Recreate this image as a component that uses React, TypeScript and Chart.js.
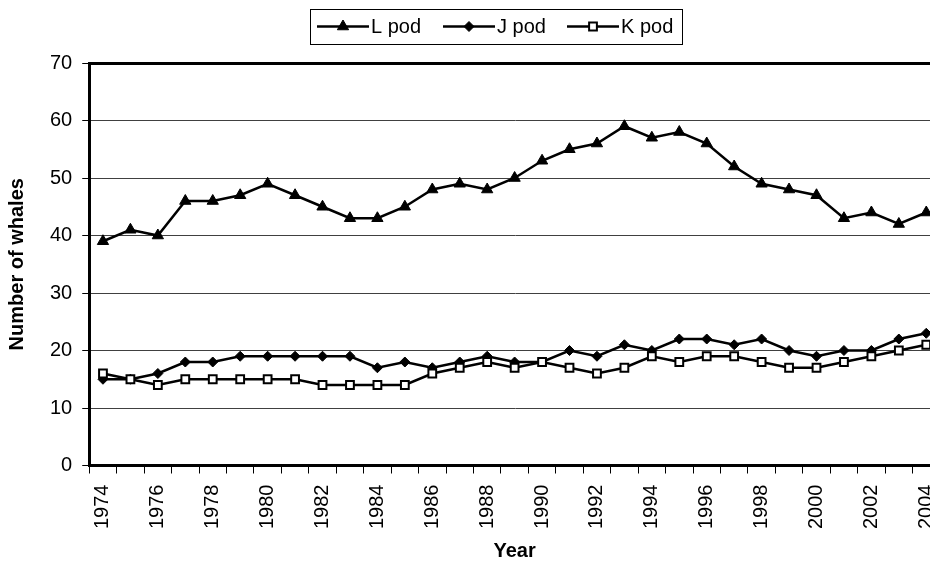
import React, { useEffect, useRef } from 'react';
import { Chart, registerables } from 'chart.js';
import { drawPoint } from 'chart.js/helpers';

Chart.register(...registerables);

const years = [
  '1974', '1975', '1976', '1977', '1978', '1979', '1980', '1981', '1982', '1983',
  '1984', '1985', '1986', '1987', '1988', '1989', '1990', '1991', '1992', '1993',
  '1994', '1995', '1996', '1997', '1998', '1999', '2000', '2001', '2002', '2003', '2004',
];

const lPod = [39, 41, 40, 46, 46, 47, 49, 47, 45, 43, 43, 45, 48, 49, 48, 50, 53, 55, 56, 59, 57, 58, 56, 52, 49, 48, 47, 43, 44, 42, 44];
const jPod = [15, 15, 16, 18, 18, 19, 19, 19, 19, 19, 17, 18, 17, 18, 19, 18, 18, 20, 19, 21, 20, 22, 22, 21, 22, 20, 19, 20, 20, 22, 23];
const kPod = [16, 15, 14, 15, 15, 15, 15, 15, 14, 14, 14, 14, 16, 17, 18, 17, 18, 17, 16, 17, 19, 18, 19, 19, 18, 17, 17, 18, 19, 20, 21];

const seriesNames = ['L pod', 'J pod', 'K pod'];
const yMin = 0;
const yMax = 70;
const yStep = 10;

const FONT = '"Liberation Sans", Arial, Helvetica, sans-serif';

const legendLineStarts = [317, 443, 567];

const boxLegend = {
  id: 'boxLegend',
  afterDraw(chart: any) {
    const ctx = chart.ctx;
    ctx.save();
    ctx.strokeStyle = '#000';
    ctx.lineWidth = 1;
    ctx.strokeRect(310.5, 9.5, 372, 35);
    const cy = 26.5;
    chart.data.datasets.forEach((ds: any, i: number) => {
      const x0 = legendLineStarts[i];
      ctx.beginPath();
      ctx.strokeStyle = '#000';
      ctx.lineWidth = 2.5;
      ctx.moveTo(x0, cy);
      ctx.lineTo(x0 + 52, cy);
      ctx.stroke();
      ctx.fillStyle = ds.pointBackgroundColor;
      ctx.strokeStyle = '#000';
      ctx.lineWidth = ds.pointBorderWidth;
      drawPoint(ctx, {
        pointStyle: ds.pointStyle,
        radius: ds.pointRadius,
        borderWidth: ds.pointBorderWidth,
        rotation: 0,
      } as any, x0 + 26, cy);
      ctx.fillStyle = '#000';
      ctx.font = `20px ${FONT}`;
      ctx.textAlign = 'left';
      ctx.textBaseline = 'middle';
      ctx.fillText(ds.label, x0 + 54, cy + 1);
    });
    ctx.restore();
  },
};

export default function App() {
  const ref = useRef<HTMLCanvasElement>(null);

  useEffect(() => {
    if (!ref.current) return;
    const chart = new Chart(ref.current, {
      type: 'line',
      data: {
        labels: years,
        datasets: [
          {
            label: seriesNames[0],
            data: lPod,
            borderColor: '#000',
            borderWidth: 2.5,
            pointStyle: 'triangle',
            pointRadius: 6.5,
            pointBackgroundColor: '#000',
            pointBorderColor: '#000',
            pointBorderWidth: 1,
            tension: 0,
            clip: false,
            order: 2,
          },
          {
            label: seriesNames[1],
            data: jPod,
            borderColor: '#000',
            borderWidth: 2.5,
            pointStyle: 'rectRot',
            pointRadius: 5,
            pointBackgroundColor: '#000',
            pointBorderColor: '#000',
            pointBorderWidth: 1,
            tension: 0,
            clip: false,
            order: 1,
          },
          {
            label: seriesNames[2],
            data: kPod,
            borderColor: '#000',
            borderWidth: 2.5,
            pointStyle: 'rect',
            pointRadius: 5.5,
            pointBackgroundColor: '#fff',
            pointBorderColor: '#000',
            pointBorderWidth: 2,
            tension: 0,
            clip: false,
            order: 0,
          },
        ] as any,
      },
      options: {
        animation: false,
        responsive: false,
        maintainAspectRatio: false,
        layout: { autoPadding: false, padding: { left: 5, top: 63, right: 0, bottom: 0 } },
        plugins: {
          legend: { display: false },
          tooltip: { enabled: false },
        },
        scales: {
          x: {
            type: 'category',
            offset: true,
            grid: {
              display: true,
              drawOnChartArea: false,
              drawTicks: true,
              tickLength: 8,
              tickColor: '#000',
              tickWidth: 1,
              offset: true,
            },
            border: { display: true, color: '#000', width: 3 },
            ticks: {
              autoSkip: false,
              maxRotation: 90,
              minRotation: 90,
              padding: 11,
              color: '#000',
              font: { family: FONT, size: 20 },
              callback: (_v: any, i: number) => (i % 2 === 0 ? years[i] : ''),
            },
            title: {
              display: true,
              text: 'Year',
              color: '#000',
              font: { family: FONT, size: 20, weight: 'bold', lineHeight: 1.1 },
              padding: { top: 0, bottom: 1 },
            },
            afterFit: (s: any) => {
              s.paddingLeft = 0;
              s.paddingRight = 0;
            },
          } as any,
          y: {
            min: yMin,
            max: yMax,
            ticks: {
              stepSize: yStep,
              padding: 10,
              color: '#000',
              font: { family: FONT, size: 20 },
            },
            grid: {
              color: (c: any) => (c.tick && c.tick.value === yMax ? '#000' : '#404040'),
              lineWidth: (c: any) => (c.tick && c.tick.value === yMax ? 3 : 1),
              tickColor: '#000',
              tickLength: 7,
              tickWidth: 1,
            },
            border: { display: true, color: '#000', width: 3 },
            title: {
              display: true,
              text: 'Number of whales',
              color: '#000',
              font: { family: FONT, size: 20, weight: 'bold' },
              padding: { top: 0, bottom: 11 },
            },
          } as any,
        },
      },
      plugins: [boxLegend],
    });
    return () => chart.destroy();
  }, []);

  return (
    <div style={{ position: 'fixed', left: 0, top: 0, width: 930, height: 563, overflow: 'hidden', background: '#fff' }}>
      <canvas ref={ref} width={940} height={563} style={{ display: 'block', width: 940, height: 563 }} />
    </div>
  );
}
